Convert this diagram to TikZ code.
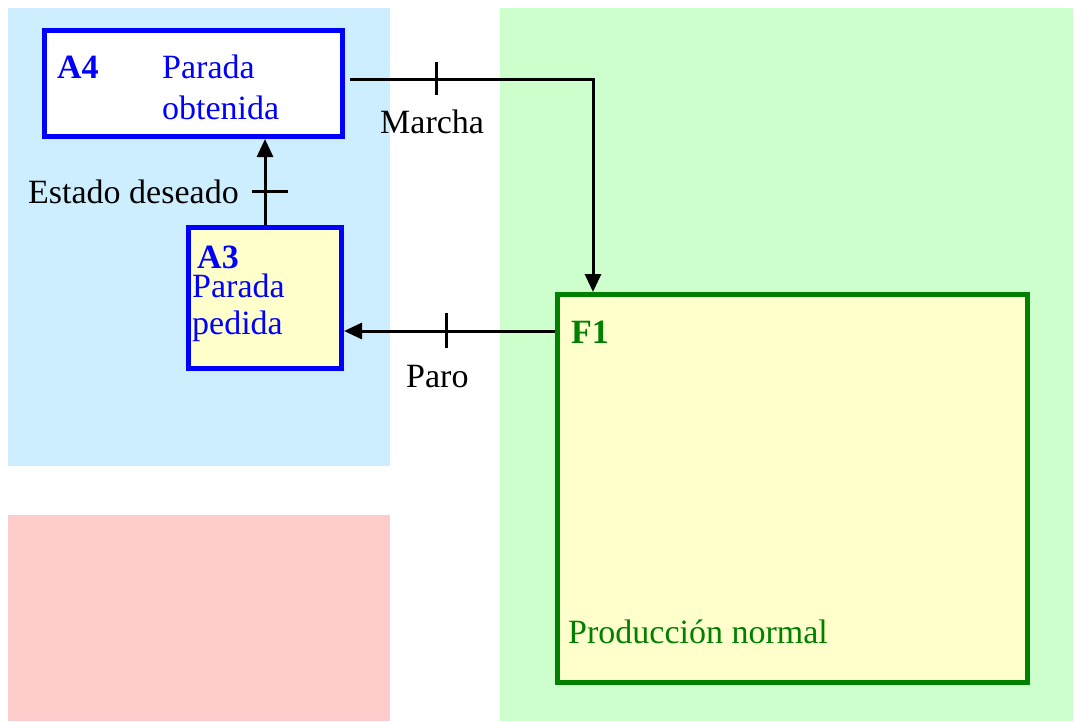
\documentclass[tikz,border=0pt]{standalone}
\usepackage{fontspec}
\setmainfont{Liberation Serif}
\usetikzlibrary{arrows.meta}
\definecolor{bgblue}{HTML}{CCEEFF}
\definecolor{bggreen}{HTML}{CCFFCC}
\definecolor{bgpink}{HTML}{FFCCCC}
\definecolor{boxyellow}{HTML}{FFFFCC}
\definecolor{boxblue}{HTML}{0000FF}
\definecolor{boxgreen}{HTML}{008000}
\begin{document}
\begin{tikzpicture}[x=1pt,y=-1pt,
  txt/.style={inner sep=0pt, anchor=base west, font=\fontsize{34}{38}\selectfont},
  btxt/.style={txt, font=\fontsize{34}{38}\selectfont\bfseries},
  stepbox/.style={draw=boxblue, line width=5pt, inner sep=0pt, anchor=north west},
  funcbox/.style={draw=boxgreen, line width=5pt, inner sep=0pt, anchor=north west, fill=boxyellow},
  conn/.style={line width=3pt, -{Triangle[width=16pt,length=18pt]}},
  tick/.style={line width=3pt}]
\useasboundingbox (0,0) rectangle (1074,721);
% background zones
\fill[bgblue] (8,8) rectangle (390,466);
\fill[bgpink] (8,515) rectangle (390,721);
\fill[bggreen] (500,8) rectangle (1073,721);
% boxes (anchors at the outer edge of the border)
\node[stepbox, fill=white, minimum width=298pt, minimum height=106pt] (A4) at (42,28) {};
\node[stepbox, fill=boxyellow, minimum width=153pt, minimum height=141pt] (A3) at (186,225) {};
\node[funcbox, minimum width=470pt, minimum height=388pt] (F1) at (555,292) {};
% texts in boxes
\node[btxt, text=boxblue] (A4id) at (57,78) {A4};
\node[txt, text=boxblue] (A4t1) at (162,78) {Parada};
\node[txt, text=boxblue] (A4t2) at (162,119) {obtenida};
\node[btxt, text=boxblue] (A3id) at (197,268) {A3};
\node[txt, text=boxblue] (A3t1) at (192,297) {Parada};
\node[txt, text=boxblue] (A3t2) at (192,334) {pedida};
\node[btxt, text=boxgreen] (F1id) at (571,343) {F1};
\node[txt, text=boxgreen] (F1t) at (568,643) {Producción normal};
% connectors
\coordinate (mstart) at (350,79);
\coordinate (mend) at ([xshift=38pt]F1.north west);
\coordinate (pstart) at ([yshift=-39pt]F1.north west);
\draw[conn] (mstart) -| (mend);
\draw[conn] (pstart) -- (A3.east |- pstart);
\draw[conn] (A3.north) -- (A3.north |- A4.south);
% transition ticks
\draw[tick] (436,62) -- (436,95);
\draw[tick] (446,313) -- (446,348);
\draw[tick] (252,191) -- (288,191);
% transition labels
\node[txt] (lmarcha) at (380,133) {Marcha};
\node[txt] (lparo) at (406,387) {Paro};
\node[txt] (lestado) at (28,203) {Estado deseado};
\end{tikzpicture}
\end{document}
